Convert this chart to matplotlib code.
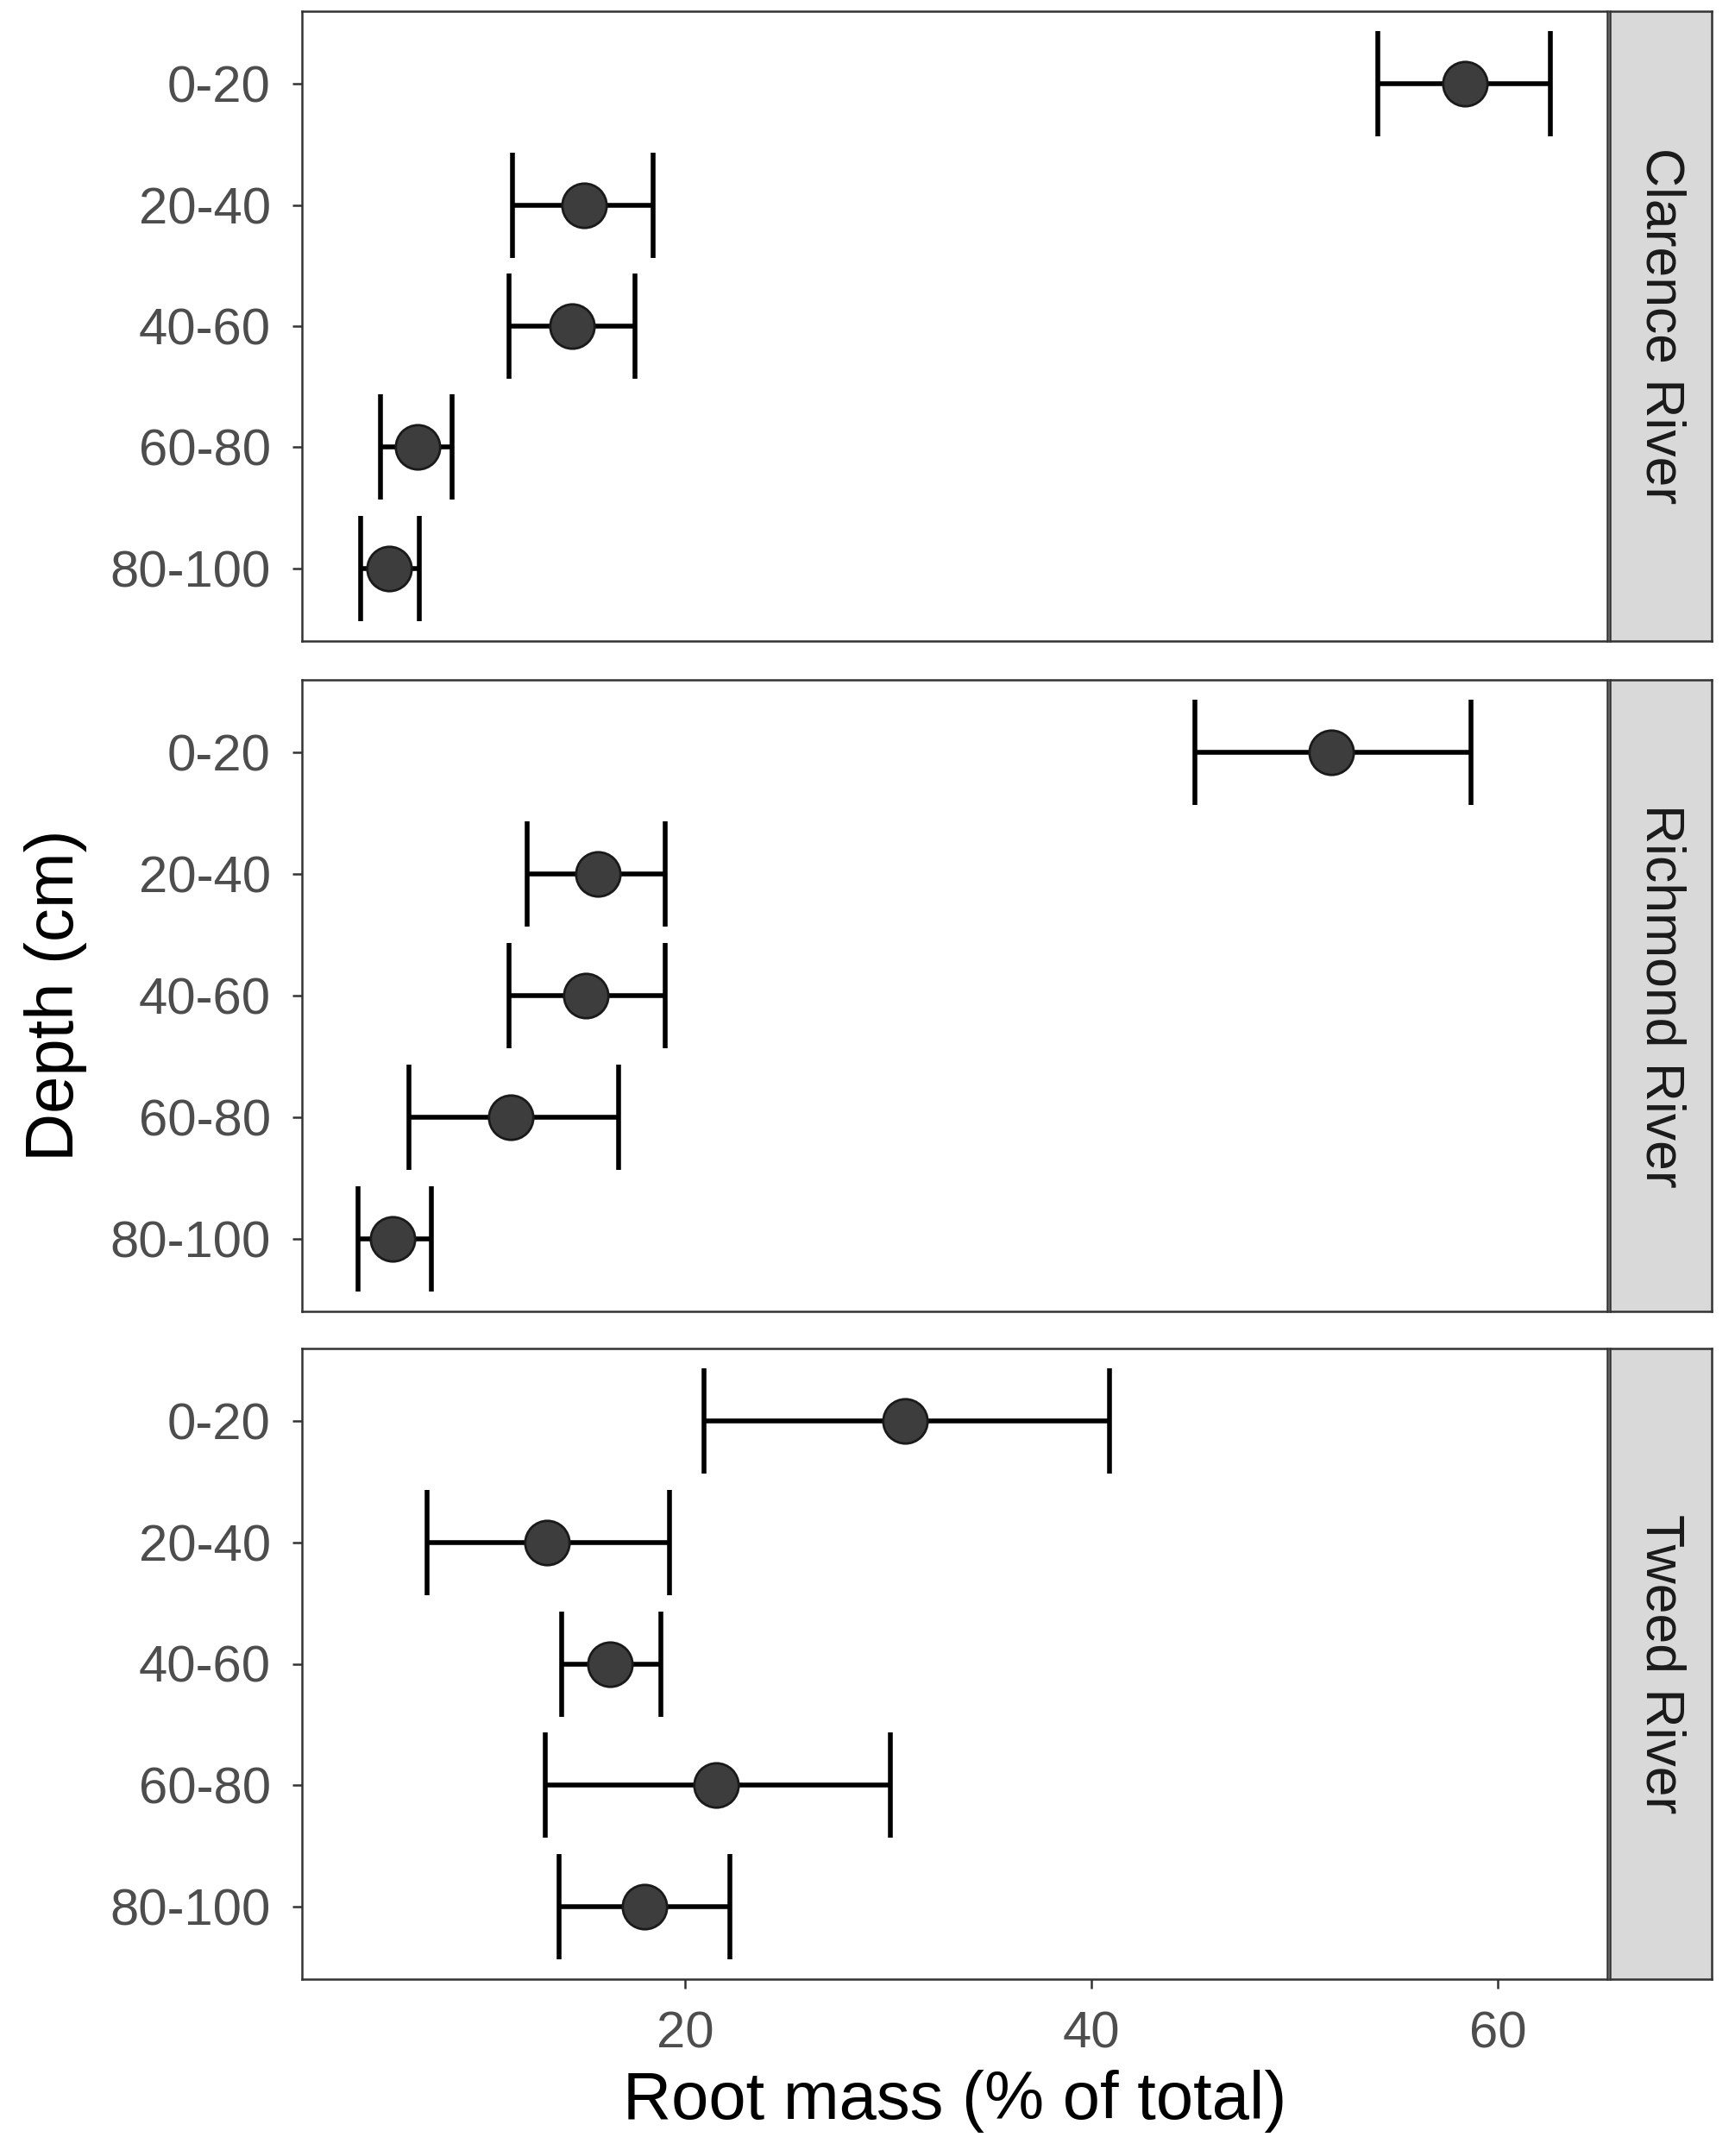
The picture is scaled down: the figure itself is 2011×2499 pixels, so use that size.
import matplotlib
matplotlib.use("Agg")
import matplotlib.pyplot as plt

plt.rcParams['font.family'] = ['Liberation Sans', 'DejaVu Sans']

depths = ["0-20", "20-40", "40-60", "60-80", "80-100"]
sites = ["Clarence River", "Richmond River", "Tweed River"]

clarence_mean = [58.4, 15.0, 14.4, 6.8, 5.4]
clarence_lo = [54.1, 11.5, 11.3, 5.0, 4.0]
clarence_hi = [62.6, 18.4, 17.5, 8.5, 6.9]

richmond_mean = [51.8, 15.7, 15.1, 11.4, 5.6]
richmond_lo = [45.1, 12.2, 11.3, 6.4, 3.9]
richmond_hi = [58.7, 19.0, 19.0, 16.7, 7.5]

tweed_mean = [30.8, 13.2, 16.3, 21.5, 18.0]
tweed_lo = [20.9, 7.3, 13.9, 13.1, 13.8]
tweed_hi = [40.9, 19.2, 18.8, 30.1, 22.2]

x_ticks = [20, 40, 60]

data = [
    (clarence_mean, clarence_lo, clarence_hi),
    (richmond_mean, richmond_lo, richmond_hi),
    (tweed_mean, tweed_lo, tweed_hi),
]

W, H = 2011, 2499
fig = plt.figure(figsize=(W / 100, H / 100), dpi=100)

left = 350 / W
width = (1863 - 350) / W
strip_x = 1866 / W
strip_w = (1984 - 1866) / W
panels_px = [(13, 743), (788, 1520), (1563, 2294)]

edge = "#333333"
axes = []
for i, ((top, bot), site, (m, lo, hi)) in enumerate(zip(panels_px, sites, data)):
    ax = fig.add_axes([left, 1 - bot / H, width, (bot - top) / H])
    axes.append(ax)
    ypos = list(range(len(depths)))
    xerr = [[mm - l for mm, l in zip(m, lo)], [h - mm for mm, h in zip(m, hi)]]
    ax.errorbar(m, ypos, xerr=xerr, fmt='none', ecolor='black', elinewidth=4.0,
                capsize=44, capthick=4.0, zorder=2)
    ax.scatter(m, ypos, s=37 ** 2, color='#3D3D3D', edgecolor='#1a1a1a',
               linewidth=2.0, zorder=3)
    ax.set_xlim(1.12, 65.4)
    ax.set_ylim(4.6, -0.6)
    ax.set_yticks(ypos)
    ax.set_yticklabels(depths)
    ax.set_xticks(x_ticks)
    for s in ax.spines.values():
        s.set_color(edge)
        s.set_linewidth(1.8)
    ax.tick_params(axis='both', colors=edge, length=8, width=1.8,
                   labelsize=43, labelcolor='#4D4D4D', pad=18)
    if i < 2:
        ax.tick_params(axis='x', labelbottom=False, length=0)
    # strip
    sax = fig.add_axes([strip_x, 1 - bot / H, strip_w, (bot - top) / H])
    sax.set_xticks([])
    sax.set_yticks([])
    sax.set_facecolor('#D9D9D9')
    for s in sax.spines.values():
        s.set_color(edge)
        s.set_linewidth(1.8)
    sax.text(0.5, 0.5, site, rotation=-90, ha='center', va='center',
             fontsize=45, color='#1A1A1A', transform=sax.transAxes)

axes[-1].set_xlabel("Root mass (% of total)", fontsize=56, labelpad=10)
fig.text(0.032, (1 - 13 / H + 1 - 2294 / H) / 2, "Depth (cm)", rotation=90,
         ha='center', va='center', fontsize=56)

fig.savefig("out.png", dpi=100, facecolor='white')
